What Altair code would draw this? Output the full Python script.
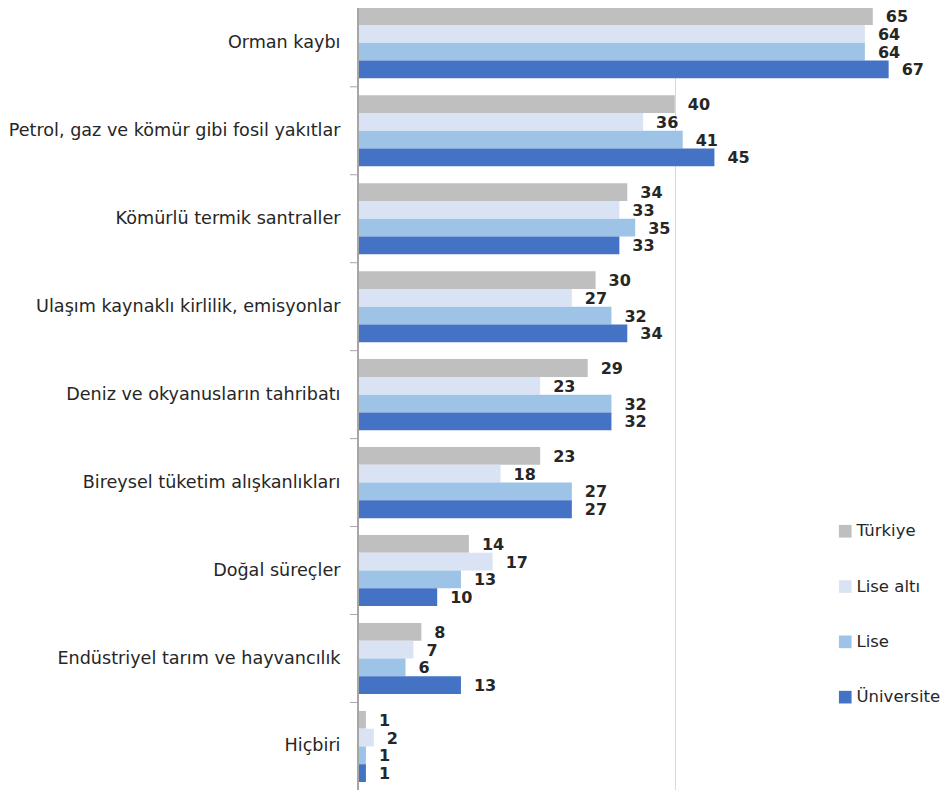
import altair as alt
import pandas as pd

categories = [
    "Orman kaybı",
    "Petrol, gaz ve kömür gibi fosil yakıtlar",
    "Kömürlü termik santraller",
    "Ulaşım kaynaklı kirlilik, emisyonlar",
    "Deniz ve okyanusların tahribatı",
    "Bireysel tüketim alışkanlıkları",
    "Doğal süreçler",
    "Endüstriyel tarım ve hayvancılık",
    "Hiçbiri",
]
series = ["Türkiye", "Lise altı", "Lise", "Üniversite"]
colors = ["#BFBFBF", "#DAE3F3", "#9DC3E6", "#4472C4"]

turkiye = [65, 40, 34, 30, 29, 23, 14, 8, 1]
lise_alti = [64, 36, 33, 27, 23, 18, 17, 7, 2]
lise = [64, 41, 35, 32, 32, 27, 13, 6, 1]
universite = [67, 45, 33, 34, 32, 27, 10, 13, 1]

values = [turkiye, lise_alti, lise, universite]
rows = []
for s, vals in zip(series, values):
    for c, v in zip(categories, vals):
        rows.append({"cat": c, "series": s, "value": v})
df = pd.DataFrame(rows)
cat_df = pd.DataFrame({"cat": categories})

W = 582
H = 782
XMAX = W / 7.92

yscale = alt.Scale(domain=categories, range=[-0.7, 774], paddingInner=0.192, paddingOuter=0)
xscale = alt.Scale(domain=[0, XMAX], nice=False, zero=True)
offscale = alt.Scale(domain=series, paddingInner=0, paddingOuter=0)

base = alt.Chart(df)

bars = base.mark_bar().encode(
    y=alt.Y("cat:N", scale=yscale, sort=categories,
            axis=alt.Axis(title=None, ticks=False, domain=False, labelFontSize=17.6,
                          labelFont="DejaVu Sans", labelColor="#262626",
                          labelPadding=18, labelLimit=400)),
    x=alt.X("value:Q", scale=xscale,
            axis=alt.Axis(title=None, values=[40], labels=False, ticks=False,
                          domain=False, grid=True, gridColor="#D9D9D9", gridWidth=1)),
    yOffset=alt.YOffset("series:N", sort=series, scale=offscale),
    color=alt.Color("series:N", sort=series,
                    scale=alt.Scale(domain=series, range=colors),
                    legend=alt.Legend(title=None, orient="none", legendX=479, legendY=515,
                                      symbolType="square", symbolSize=160, symbolStrokeWidth=0,
                                      labelFontSize=16.5, labelFont="DejaVu Sans",
                                      labelColor="#262626", labelOffset=3, rowPadding=38.3,
                                      padding=0)),
)

labels = base.mark_text(align="left", baseline="middle", dx=13, dy=1, fontSize=16,
                        font="DejaVu Sans", fontWeight="bold", color="#262626").encode(
    y=alt.Y("cat:N", scale=yscale, sort=categories),
    x=alt.X("value:Q", scale=xscale),
    yOffset=alt.YOffset("series:N", sort=series, scale=offscale),
    text="value:Q",
)

ticks = alt.Chart(cat_df).mark_rule(color="#A6A6A6", strokeWidth=1, yOffset=-8.45).encode(
    y=alt.Y("cat:N", scale=yscale, sort=categories, bandPosition=0),
    x=alt.value(-8),
    x2=alt.value(0),
)

domain_line = alt.Chart(cat_df).mark_rule(color="#A6A6A6", strokeWidth=1.5).encode(
    x=alt.value(0), y=alt.value(0), y2=alt.value(H)
)

chart = alt.layer(bars, labels, ticks, domain_line).properties(
    width=W, height=H,
    autosize=alt.AutoSizeParams(type="none"),
    padding={"left": 350, "top": 0, "right": 0, "bottom": 0},
).configure_view(stroke=None)

chart.save("out.html", embed_options={"renderer": "svg", "actions": False})
